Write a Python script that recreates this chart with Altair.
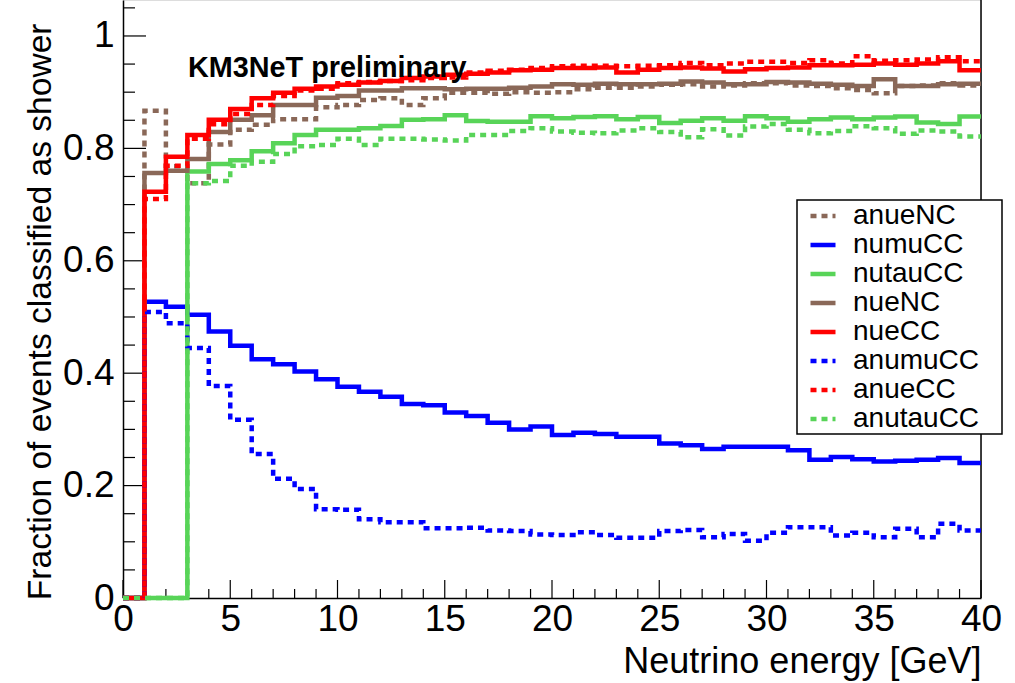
import altair as alt
import pandas as pd

# ---------------- data ----------------
bin_edges = list(range(0, 41))  # 1 GeV bins from 0 to 40

series_names = ["anueNC", "numuCC", "nutauCC", "nueNC", "nueCC", "anumuCC", "anueCC", "anutauCC"]
series_colors = ["#8a6858", "#0000ff", "#58d458", "#8a6858", "#ff0000", "#0000ff", "#ff0000", "#58d458"]
series_dashes = [[6, 5], [1, 0], [1, 0], [1, 0], [1, 0], [6, 5], [6, 5], [6, 5]]

nueCC = [0, 0.723, 0.785, 0.824, 0.851, 0.870, 0.889, 0.899, 0.906, 0.910, 0.913, 0.917, 0.920, 0.925, 0.928,
         0.931, 0.933, 0.935, 0.939, 0.940, 0.943, 0.943, 0.944, 0.935, 0.940, 0.943, 0.944,
         0.942, 0.937, 0.941, 0.943, 0.944, 0.948, 0.948, 0.949, 0.951, 0.949, 0.951, 0.955, 0.939]
anueCC = [0, 0.710, 0.769, 0.817, 0.843, 0.861, 0.877, 0.893, 0.903, 0.906, 0.916, 0.918, 0.920, 0.921, 0.925,
          0.926, 0.935, 0.938, 0.940, 0.943, 0.946, 0.947, 0.947, 0.946, 0.947, 0.948, 0.952,
          0.948, 0.951, 0.954, 0.954, 0.952, 0.957, 0.951, 0.964, 0.956, 0.957, 0.958, 0.962, 0.955]
nueNC = [0, 0.756, 0.760, 0.781, 0.829, 0.851, 0.859, 0.877, 0.877, 0.890, 0.893, 0.903, 0.903, 0.907, 0.907,
         0.905, 0.906, 0.906, 0.908, 0.910, 0.914, 0.913, 0.915, 0.914, 0.914, 0.915, 0.919,
         0.917, 0.914, 0.914, 0.918, 0.917, 0.915, 0.913, 0.911, 0.923, 0.911, 0.911, 0.914, 0.915]
anueNC = [0, 0.867, 0.768, 0.738, 0.807, 0.833, 0.842, 0.852, 0.852, 0.873, 0.877, 0.886, 0.889, 0.877, 0.889,
          0.899, 0.899, 0.897, 0.900, 0.899, 0.900, 0.905, 0.908, 0.908, 0.910, 0.913, 0.914,
          0.910, 0.912, 0.916, 0.916, 0.912, 0.911, 0.907, 0.904, 0.898, 0.911, 0.912, 0.916, 0.912]
nutauCC = [0, 0, 0, 0.759, 0.772, 0.779, 0.795, 0.809, 0.824, 0.833, 0.833, 0.836, 0.840, 0.851, 0.852,
           0.859, 0.8485, 0.8475, 0.8475, 0.857, 0.8535, 0.856, 0.857, 0.852, 0.856, 0.845, 0.849,
           0.8535, 0.849, 0.857, 0.8535, 0.8475, 0.852, 0.855, 0.852, 0.855, 0.8565, 0.846, 0.8435, 0.8565]
anutauCC = [0, 0, 0, 0.738, 0.742, 0.769, 0.776, 0.790, 0.804, 0.806, 0.817, 0.806, 0.817, 0.817, 0.816,
            0.814, 0.824, 0.824, 0.831, 0.836, 0.830, 0.828, 0.827, 0.832, 0.836, 0.829, 0.820,
            0.834, 0.823, 0.839, 0.8435, 0.833, 0.827, 0.831, 0.8395, 0.836, 0.826, 0.832, 0.830, 0.821]
numuCC = [0, 0.527, 0.518, 0.504, 0.474, 0.449, 0.425, 0.416, 0.403, 0.389, 0.376, 0.367, 0.358, 0.345, 0.343,
          0.330, 0.324, 0.312, 0.300, 0.305, 0.290, 0.294, 0.292, 0.287, 0.287, 0.275, 0.272,
          0.265, 0.269, 0.269, 0.269, 0.263, 0.246, 0.251, 0.247, 0.243, 0.244, 0.246, 0.249, 0.240]
anumuCC = [0, 0.509, 0.489, 0.445, 0.377, 0.317, 0.256, 0.212, 0.194, 0.158, 0.157, 0.140, 0.135, 0.135, 0.124,
           0.124, 0.125, 0.120, 0.119, 0.113, 0.112, 0.117, 0.112, 0.107, 0.107, 0.119, 0.121,
           0.108, 0.114, 0.102, 0.116, 0.126, 0.126, 0.111, 0.116, 0.108, 0.123, 0.108, 0.132, 0.120]

series_values = {
    "anueNC": anueNC, "numuCC": numuCC, "nutauCC": nutauCC, "nueNC": nueNC,
    "nueCC": nueCC, "anumuCC": anumuCC, "anueCC": anueCC, "anutauCC": anutauCC,
}

x_major_ticks = [0, 5, 10, 15, 20, 25, 30, 35, 40]
x_minor_ticks = [v for v in range(0, 41) if v % 5 != 0]
y_major_ticks = [0, 0.2, 0.4, 0.6, 0.8, 1.0]
y_minor_ticks = [0.05, 0.1, 0.15, 0.25, 0.3, 0.35, 0.45, 0.5, 0.55, 0.65, 0.7, 0.75, 0.85, 0.9, 0.95, 1.05]

annotation_text = "KM3NeT preliminary"
annotation_pos = (3.03, 0.927)

# ---------------- build table ----------------
rows = []
for name in series_names:
    vals = series_values[name]
    for i, e in enumerate(bin_edges):
        v = vals[i] if i < len(vals) else vals[-1]
        rows.append({"series": name, "x": e, "y": v})
df = pd.DataFrame(rows)

W, H = 858, 598
FONT = "Liberation Sans"
PAD = "\u2800"
label_expr = "datum.label + '" + PAD + "'"

xscale = alt.Scale(domain=[0, 40], nice=False, zero=False)
yscale = alt.Scale(domain=[0, 1.064], nice=False, zero=False)

X = alt.X("x:Q", scale=xscale, title="Neutrino energy [GeV]",
          axis=alt.Axis(values=x_major_ticks, ticks=False, labelPadding=3, labelFlush=False,
                        labelOverlap=False, grid=False, domainColor="black", domainWidth=1.5,
                        labelFontSize=37, titleFontSize=36,
                        titleX=W, titleY=74, titleAlign="right", titleBaseline="alphabetic",
                        titleAnchor="end"))
Y = alt.Y("y:Q", scale=yscale, title="Fraction of events classified as shower",
          axis=alt.Axis(values=y_major_ticks, ticks=False, labelPadding=9, labelFlush=False,
                        labelOverlap=False, grid=False, format="~g", domainColor="black",
                        labelFontSize=37, titleFontSize=33.6,
                        domainWidth=1.5, titleX=-73, titleY=23, titleAlign="right",
                        titleBaseline="alphabetic", titleAngle=270))

lines = alt.Chart(df).mark_line(interpolate="step-after", strokeWidth=4.5, strokeCap="butt").encode(
    x=X, y=Y,
    color=alt.Color("series:N", scale=alt.Scale(domain=series_names, range=series_colors), title=None,
                    legend=alt.Legend(labelExpr=label_expr)),
    strokeDash=alt.StrokeDash("series:N", scale=alt.Scale(domain=series_names, range=series_dashes), title=None,
                              legend=alt.Legend(labelExpr=label_expr)),
)

xmaj = alt.Chart(pd.DataFrame({"x": x_major_ticks})).mark_rule(color="black", strokeWidth=1.2).encode(
    x=X, y=alt.value(H), y2=alt.value(H - 18))
xmin = alt.Chart(pd.DataFrame({"x": x_minor_ticks})).mark_rule(color="black", strokeWidth=1.2).encode(
    x=X, y=alt.value(H), y2=alt.value(H - 9))
ymaj = alt.Chart(pd.DataFrame({"y": y_major_ticks})).mark_rule(color="black", strokeWidth=1.2).encode(
    y=Y, x=alt.value(0), x2=alt.value(23))
ymin = alt.Chart(pd.DataFrame({"y": y_minor_ticks})).mark_rule(color="black", strokeWidth=1.2).encode(
    y=Y, x=alt.value(0), x2=alt.value(12))
right_frame = alt.Chart(pd.DataFrame({"x": [40]})).mark_rule(color="black", strokeWidth=1.5).encode(
    x=X, y=alt.value(0), y2=alt.value(H))

label = alt.Chart(pd.DataFrame({"x": [annotation_pos[0]], "y": [annotation_pos[1]], "t": [annotation_text]})).mark_text(
    align="left", baseline="alphabetic", fontSize=28.8, fontWeight="bold", font=FONT, color="black"
).encode(x=X, y=Y, text="t:N")

chart = alt.layer(xmaj, xmin, ymaj, ymin, right_frame, lines, label).properties(
    width=W, height=H,
    padding={"left": 123, "top": 0, "right": 34, "bottom": 85},
    autosize=alt.AutoSizeParams(type="none"),
).configure_view(stroke=None).configure(font=FONT, background="white").configure_axis(
    labelFont=FONT, titleFont=FONT,
    labelColor="black", titleColor="black", titleFontWeight="normal",
).configure_legend(
    orient="none", legendX=674, legendY=200, fillColor="white", strokeColor="black", strokeWidth=1.5,
    padding=1, labelFontSize=28, labelFont=FONT, labelColor="black", labelLimit=400,
    symbolType="stroke", symbolSize=625, symbolStrokeWidth=4.5, symbolOffset=10,
    rowPadding=0, labelOffset=15, cornerRadius=0,
)

chart.save("out.html", embed_options={"renderer": "svg", "actions": False})
